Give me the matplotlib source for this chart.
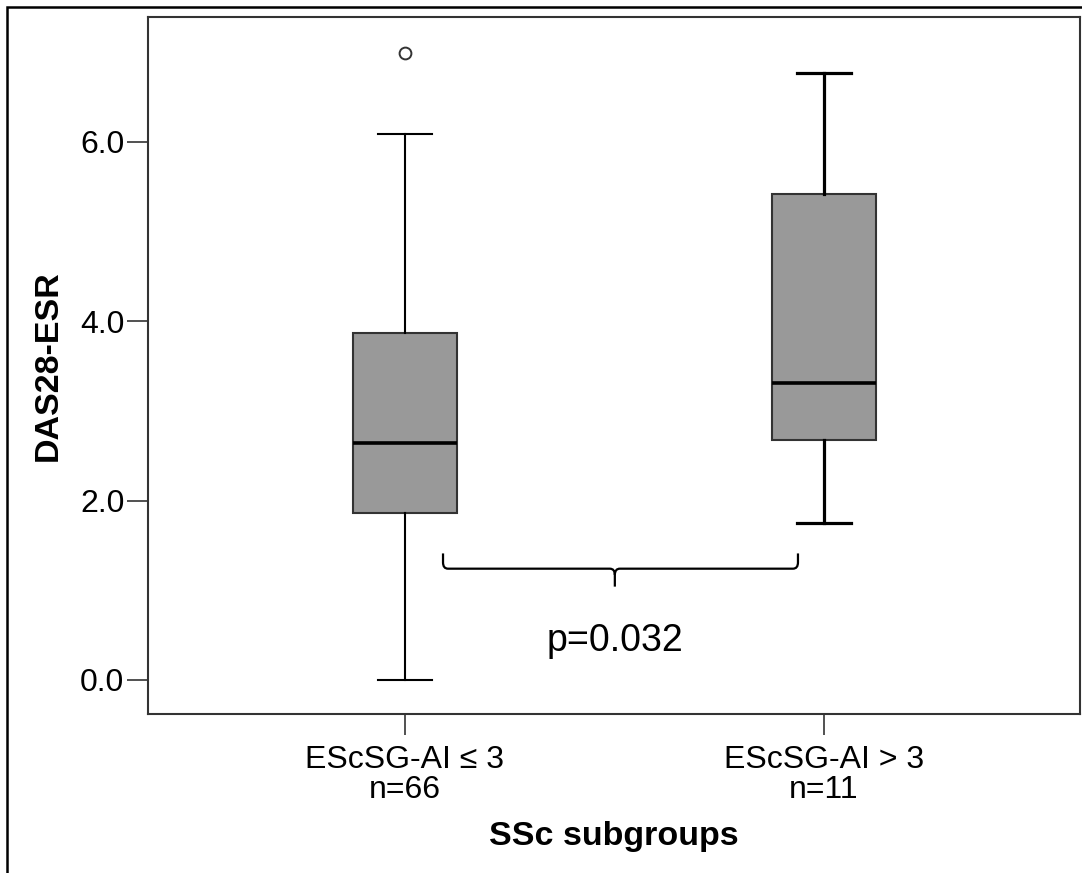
import numpy as np
import matplotlib
matplotlib.use('Agg')
import matplotlib.pyplot as plt
from matplotlib.path import Path
from matplotlib.patches import PathPatch, Rectangle

plt.rcParams['font.family'] = ['Liberation Sans', 'DejaVu Sans']

# values
groups = ['EScSG-AI \u2264 3\nn=66', 'EScSG-AI > 3\nn=11']
whis_lo = [0.0, 1.75]
q1 = [1.86, 2.68]
med = [2.64, 3.31]
q3 = [3.87, 5.42]
whis_hi = [6.09, 6.77]
fliers = [[6.99], []]
y_ticks = [0.0, 2.0, 4.0, 6.0]
p_text = 'p=0.032'

W, H = 1082, 873
fig = plt.figure(figsize=(W / 100, H / 100), dpi=100)
ax = fig.add_axes([148 / W, 1 - 714 / H, (1080 - 148) / W, (714 - 17) / H])

stats = []
for i in range(len(groups)):
    stats.append(dict(med=med[i], q1=q1[i], q3=q3[i], whislo=whis_lo[i],
                      whishi=whis_hi[i], fliers=fliers[i], label=groups[i]))

pos = [1, 2]
bp = ax.bxp(stats, positions=pos, widths=0.25, patch_artist=True,
            showfliers=True,
            boxprops=dict(facecolor='#999999', edgecolor='#333333', linewidth=1.5),
            medianprops=dict(color='black', linewidth=2.6),
            whiskerprops=dict(color='black', linewidth=1.5),
            capprops=dict(color='black', linewidth=1.5),
            flierprops=dict(marker='o', markersize=8.5, markerfacecolor='white',
                            markeredgecolor='#333333', markeredgewidth=1.4))
# second group is drawn with heavier lines in the original
for ln in bp['whiskers'][2:] + bp['caps'][2:]:
    ln.set_linewidth(2.3)
for c in bp['caps']:
    x = c.get_xdata()
    m = x.mean()
    c.set_xdata([m - 0.065, m + 0.065])

ax.set_xlim(0.387, 2.611)
ax.set_ylim(-0.38, 7.39)
ax.set_yticks(y_ticks)
ax.set_yticklabels(['%.1f' % v for v in y_ticks])
ax.tick_params(axis='y', length=15, width=1.2, labelsize=23, pad=2, color='#333333')
ax.tick_params(axis='x', length=15, width=1.2, labelsize=23, pad=7, color='#333333')
for lab in ax.get_xticklabels():
    lab.set_linespacing(1.0)
for s in ax.spines.values():
    s.set_color('#333333')
    s.set_linewidth(1.5)

ax.set_ylabel('DAS28-ESR', fontsize=24.5, fontweight='bold', labelpad=12)
ax.set_xlabel('SSc subgroups', fontsize=24.5, fontweight='bold', labelpad=12)

# curly bracket between the groups
x0, x1, xm = 1.091, 1.938, 1.501
ytop, yh, ytip = 1.41, 1.24, 1.04
dx, dy = 0.012, 0.07
verts = [(x0, ytop), (x0, yh + dy), (x0, yh), (x0 + dx, yh),
         (xm - dx, yh), (xm, yh), (xm, yh - dy), (xm, ytip),
         (xm, yh - dy), (xm, yh), (xm + dx, yh),
         (x1 - dx, yh), (x1, yh), (x1, yh + dy), (x1, ytop)]
codes = [Path.MOVETO, Path.LINETO, Path.CURVE3, Path.CURVE3,
         Path.LINETO, Path.CURVE3, Path.CURVE3, Path.LINETO,
         Path.MOVETO, Path.CURVE3, Path.CURVE3,
         Path.LINETO, Path.CURVE3, Path.CURVE3, Path.LINETO]
ax.add_patch(PathPatch(Path(verts, codes), fill=False, lw=1.6, color='black'))
ax.text(xm, 0.43, p_text, fontsize=27, ha='center', va='center')

# outer frame of the exported figure
fig.patches.append(Rectangle((7 / W, -0.5), 2, 1.5 - 7 / H, transform=fig.transFigure,
                             fill=False, lw=1.8, edgecolor='black'))

fig.savefig('out.png', dpi=100)
